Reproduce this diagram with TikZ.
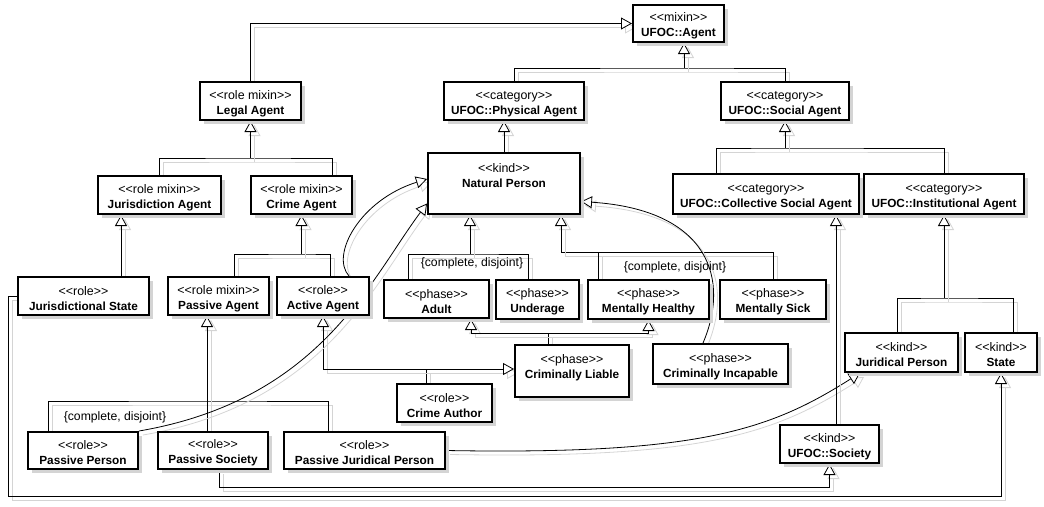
\documentclass[tikz,border=0pt]{standalone}
\usepackage{fontspec}
\setmainfont{Liberation Sans}
\usetikzlibrary{arrows.meta, shadows}
\pgfdeclarelayer{background}
\pgfsetlayers{background,main}
\newcommand\stereo[2]{{\fontsize{12.4}{15}\selectfont\rule{0pt}{14pt}<{}<#1>{}>}\\\textbf{#2}}

\begin{document}
\begin{tikzpicture}[x=1pt, y=-1pt,
  cls/.style={draw, line width=2pt, fill=white, anchor=north west, align=center,
    inner sep=2pt, font=\fontsize{11.8}{15}\selectfont,
    drop shadow={shadow xshift=4pt, shadow yshift=-4pt, fill=black!17, opacity=1}},
  conn/.style={line width=0.8pt,
    preaction={draw=black!17, line width=0.8pt, transform canvas={shift={(4pt,-4pt)}}}},
  gen/.style={conn, -{Triangle[fill=white, length=11pt, width=12pt, line width=0.8pt]}},
  gset/.style={font=\fontsize{12.2}{14}\selectfont}]
  \useasboundingbox (0,0) rectangle (1044,506);

  % top level
  \node[cls, minimum width=91pt, minimum height=37pt] (agent) at (632,4) {\stereo{mixin}{UFOC::Agent}};
  \node[cls, minimum width=101pt, minimum height=38pt] (legal) at (199,81) {\stereo{role mixin}{Legal Agent}};
  \node[cls, minimum width=140pt, minimum height=38pt] (physical) at (443,81) {\stereo{category}{UFOC::Physical Agent}};
  \node[cls, minimum width=128pt, minimum height=38pt] (social) at (720,81) {\stereo{category}{UFOC::Social Agent}};

  % second row
  \node[cls, minimum width=123pt, minimum height=38pt] (jurag) at (97,175) {\stereo{role mixin}{Jurisdiction Agent}};
  \node[cls, minimum width=101pt, minimum height=38pt] (crimeag) at (250,175) {\stereo{role mixin}{Crime Agent}};
  \node[cls, minimum width=152pt, minimum height=61pt] (natural) at (427,152) {\stereo{kind}{Natural Person}\\\rule{0pt}{20pt}};
  \node[cls, minimum width=186pt, minimum height=40pt] (collective) at (672,173) {\stereo{category}{UFOC::Collective Social Agent}};
  \node[cls, minimum width=160pt, minimum height=40pt] (institutional) at (863,173) {\stereo{category}{UFOC::Institutional Agent}};

  % third row
  \node[cls, minimum width=131pt, minimum height=38pt] (jurstate) at (17,276) {\stereo{role}{Jurisdictional State}};
  \node[cls, minimum width=101pt, minimum height=38pt] (passiveag) at (167,276) {\stereo{role mixin}{Passive Agent}};
  \node[cls, minimum width=92pt, minimum height=38pt] (activeag) at (276,276) {\stereo{role}{Active Agent}};
  \node[cls, minimum width=105pt, minimum height=38pt] (adult) at (383,279) {\stereo{phase}{Adult}};
  \node[cls, minimum width=83pt, minimum height=39pt] (underage) at (495,279) {\stereo{phase}{Underage}};
  \node[cls, minimum width=121pt, minimum height=39pt] (healthy) at (587,279) {\stereo{phase}{Mentally Healthy}};
  \node[cls, minimum width=106pt, minimum height=39pt] (sick) at (719,279) {\stereo{phase}{Mentally Sick}};

  % lower rows
  \node[cls, minimum width=114pt, minimum height=52pt] (liable) at (514,344) {\stereo{phase}{Criminally Liable}\\\rule{0pt}{12pt}};
  \node[cls, minimum width=135pt, minimum height=40pt] (incapable) at (652,343) {\stereo{phase}{Criminally Incapable}};
  \node[cls, minimum width=95pt, minimum height=38pt] (author) at (396,383) {\stereo{role}{Crime Author}};
  \node[cls, minimum width=113pt, minimum height=39pt] (juridical) at (844,332) {\stereo{kind}{Juridical Person}};
  \node[cls, minimum width=72pt, minimum height=39pt] (state) at (964,332) {\stereo{kind}{State}};
  \node[cls, minimum width=110pt, minimum height=37pt] (pperson) at (27,431) {\stereo{role}{Passive Person}};
  \node[cls, minimum width=110pt, minimum height=37pt] (psociety) at (157,431) {\stereo{role}{Passive Society}};
  \node[cls, minimum width=161pt, minimum height=37pt] (pjuridical) at (283,431) {\stereo{role}{Passive Juridical Person}};
  \node[cls, minimum width=99pt, minimum height=38pt] (society) at (779,424) {\stereo{kind}{UFOC::Society}};

  % generalization sets
  \node[gset] (gsAge) at (472,263) {\{complete, disjoint\}};
  \node[gset] (gsMind) at (675,267) {\{complete, disjoint\}};
  \node[gset] (gsPassive) at (115,417) {\{complete, disjoint\}};

  \begin{pgfonlayer}{background}
    % to UFOC::Agent
    \draw[gen] (legal.north) |- (agent.west);
    \coordinate (agentJ) at (684,68);
    \draw[conn] (physical.north) |- (agentJ) -| (social.north);
    \draw[gen] (agentJ) -- (agentJ |- agent.south);

    % legal agent
    \coordinate (legalJ) at ([yshift=-37pt]legal.south);
    \draw[conn] (jurag.north) |- (legalJ) -| ([xshift=31pt]crimeag.north);
    \draw[gen] (legalJ) -- (legal.south);
    \draw[gen] (natural.north) -- (natural.north |- physical.south);

    % social agent
    \coordinate (socialJ) at ([yshift=-27pt]social.south);
    \draw[conn] ([xshift=-50pt]collective.north) |- (socialJ) -| (institutional.north);
    \draw[gen] (socialJ) -- (social.south);

    \draw[gen] ([xshift=37.5pt]jurstate.north) -- ([xshift=37.5pt]jurstate.north |- jurag.south);
    \coordinate (crimeJ) at ([yshift=-39pt]crimeag.south);
    \draw[conn] ([xshift=15.5pt]passiveag.north) |- (crimeJ) -| ([xshift=7pt]activeag.north);
    \draw[gen] (crimeJ) -- (crimeag.south);

    % phases of natural person
    \coordinate (adultJ) at (470,254);
    \draw[conn] ([xshift=-28.5pt]adult.north) |- (adultJ) -| ([xshift=-9.5pt]underage.north);
    \draw[gen] (adultJ) -- (adultJ |- natural.south);
    \coordinate (healthyJ) at (561,252);
    \draw[conn] (healthyJ) -| (sick.north);
    \draw[conn] ([xshift=-50.5pt]healthy.north) -- ([xshift=-50.5pt]healthy.north |- healthyJ);
    \draw[gen] (healthyJ) -- (healthyJ |- natural.south);

    \coordinate (liableJ) at (548,333);
    \draw[conn] (liableJ) -- (liableJ |- liable.north);
    \draw[gen] (liableJ) -| ([xshift=34.5pt]adult.south);
    \draw[gen] (liableJ) -| (healthy.south);

    \coordinate (authorJ) at (426,369);
    \draw[conn] (authorJ) -- (authorJ |- author.north);
    \draw[gen] (authorJ) -| (activeag.south);
    \draw[gen] (authorJ) -- (authorJ -| liable.west);

    % passive agents
    \coordinate (passiveJ) at (207,401);
    \draw[conn] ([xshift=-35pt]pperson.north) |- (passiveJ) -| ([xshift=-36.5pt]pjuridical.north);
    \draw[gen] (passiveJ |- psociety.north) -- (passiveJ |- passiveag.south);

    % curved links
    \draw[gen] ([xshift=26pt]activeag.north) .. controls (330,255) and (360,200) .. ([yshift=4.5pt]natural.west);
    \draw[gen] (pperson.north east) .. controls (320,400) and (370,280) .. ([yshift=-20pt]natural.west);
    \draw[gen] ([xshift=-17.5pt]incapable.north) .. controls (730,280) and (710,210) .. ([yshift=-18pt]natural.east);
    \draw[gen] (pjuridical.east) .. controls (700,455) and (770,430) .. ([xshift=16pt]juridical.south west);

    % society and state
    \draw[gen] ([xshift=6pt]psociety.south) -- ++(0,17) -| (society.south);
    \coordinate (cornerBL) at (8,496);
    \draw[gen] (jurstate.west) -| (cornerBL) -| (state.south);
    \draw[gen] ([xshift=6.5pt]society.north) -- ([xshift=6.5pt]society.north |- collective.south);
    \coordinate (instJ) at ([yshift=-83pt]institutional.south);
    \draw[conn] ([xshift=-4.5pt]juridical.north) |- (instJ) -| ([xshift=12pt]state.north);
    \draw[gen] (instJ) -- (institutional.south);
  \end{pgfonlayer}
\end{tikzpicture}
\end{document}
